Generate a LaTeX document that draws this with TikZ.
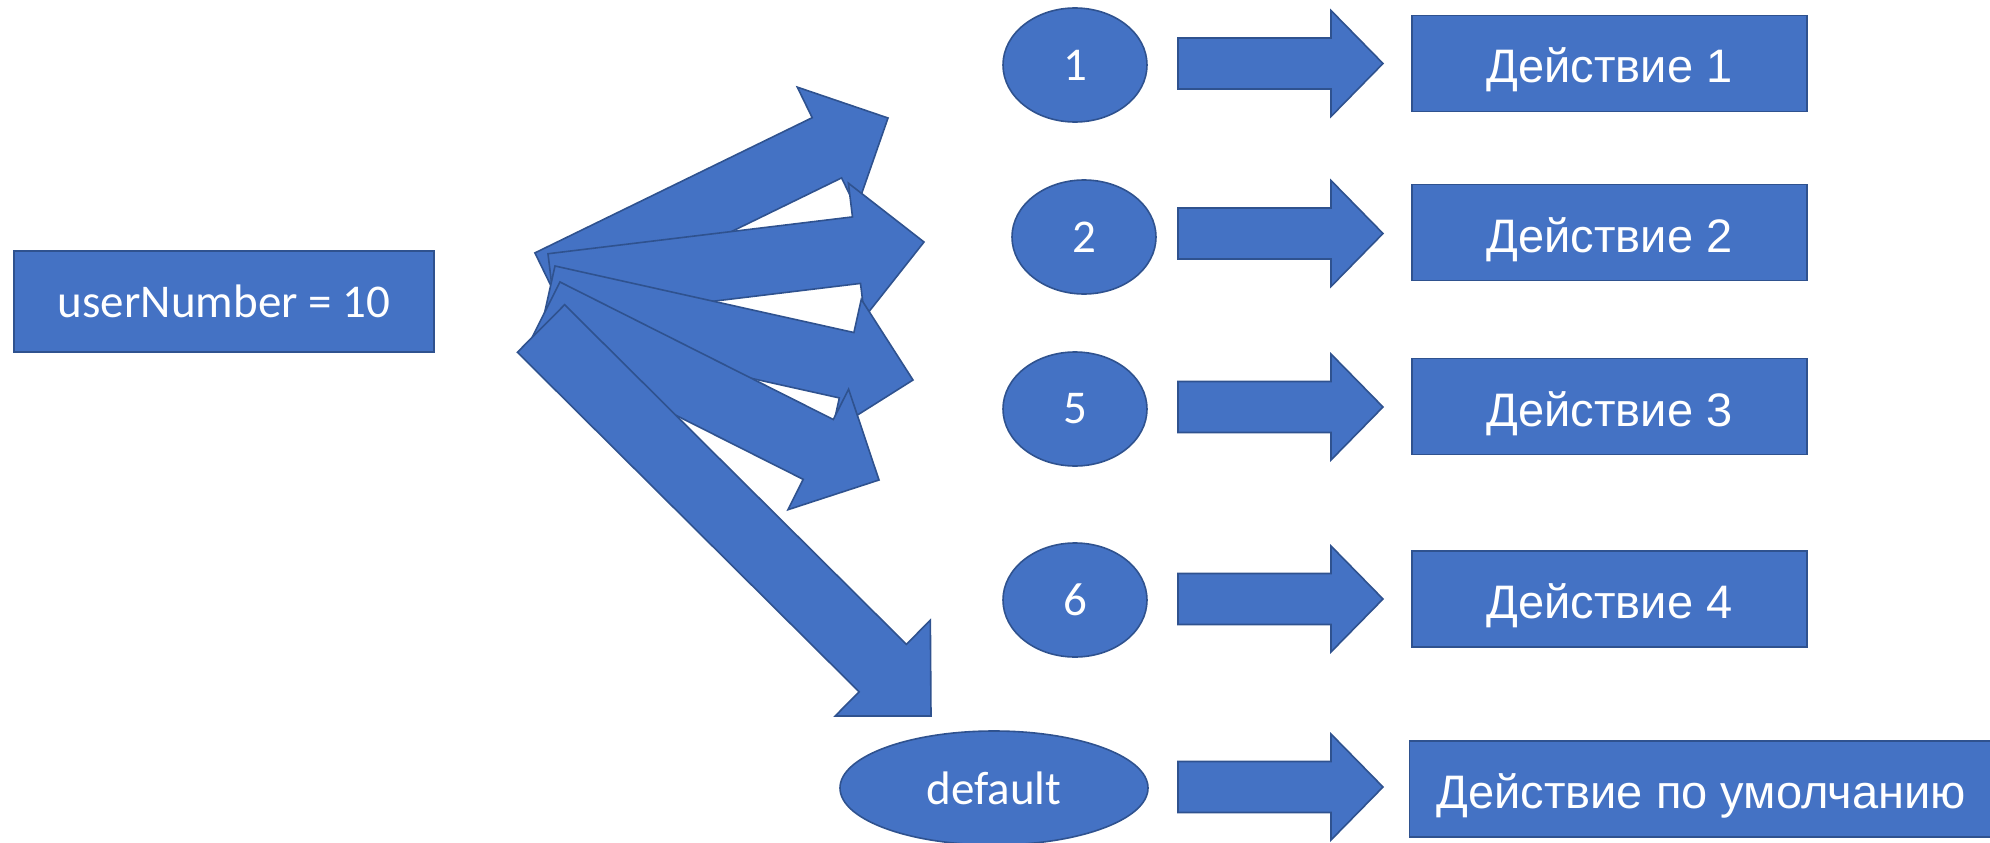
\documentclass[tikz,border=0pt]{standalone}
\usepackage{fontspec}
\setmainfont{Carlito}
\newfontfamily\cyr{Liberation Sans}
\usetikzlibrary{shapes.geometric,calc}
\definecolor{blu}{HTML}{4472C4}
\definecolor{bord}{HTML}{2F528F}
\newcommand\blockarrow[5]{%
  \coordinate (hb) at ($(#2)!#5!(#1)$);
  \draw[blk] ($(#1)!#3!90:(#2)$) -- ($(hb)!#3!90:(#2)$) -- ($(hb)!#4!90:(#2)$) -- (#2)
    -- ($(hb)!#4!-90:(#2)$) -- ($(hb)!#3!-90:(#2)$) -- ($(#1)!#3!-90:(#2)$) -- cycle;}
\tikzset{
  blk/.style={draw=bord, fill=blu, line width=1.6pt, line join=miter},
  box/.style={draw=bord, fill=blu, line width=1.6pt, text=white, inner sep=0pt,
    font=\fontsize{47}{56}\selectfont},
  oval/.style={box, ellipse, minimum width=144pt, minimum height=114pt},
  act/.style={box, minimum width=395pt, minimum height=96pt,
    text height=44pt, text depth=5pt,
    font=\cyr\fontsize{47}{56}\selectfont}
}
\begin{document}
\begin{tikzpicture}[x=1pt, y=-1pt]
\useasboundingbox (0,0) rectangle (1990,843);
% source
\node[box, minimum width=420pt, minimum height=101pt] (u) at (224,301.5) {userNumber = 10};
% fan arrows
\coordinate (t1) at (549.6,283);  \coordinate (p1) at (888,118);
\coordinate (t2) at (552,287);    \coordinate (p2) at (924,242);
\coordinate (t3) at (547.7,298.7);\coordinate (p3) at (913,380);
\coordinate (t4) at (544.9,311.9);\coordinate (p4) at (879,480);
\coordinate (t5) at (541,328.5);  \coordinate (p5) at (931,716);
\blockarrow{t1}{p1}{33.5pt}{67.5pt}{68pt}
\blockarrow{t2}{p2}{33.5pt}{67.5pt}{68pt}
\blockarrow{t3}{p3}{33.5pt}{67.5pt}{68pt}
\blockarrow{t4}{p4}{33.5pt}{67.5pt}{68pt}
\blockarrow{t5}{p5}{33.5pt}{67.5pt}{68pt}
% cases
\node[oval] (c1) at (1075,65) {1};
\node[oval] (c2) at (1084,237) {2};
\node[oval] (c3) at (1075,409) {5};
\node[oval] (c4) at (1075,600) {6};
\node[oval, minimum width=308pt] (c5) at (994,788) {default};
% actions
\node[act] (a1) at (1609.5,63.5) {Действие 1};
\node[act] (a2) at (1609.5,232.5) {Действие 2};
\node[act] (a3) at (1609.5,406.5) {Действие 3};
\node[act] (a4) at (1609.5,599) {Действие 4};
\node[act, minimum width=583pt] (a5) at (1701,789) {Действие по умолчанию};
% horizontal arrows
\foreach \i/\y in {1/63.5,2/233.5,3/407,4/599,5/787}{
  \coordinate (ht\i) at (1178,\y);
  \coordinate (hp\i) at (1383,\y);
  \blockarrow{ht\i}{hp\i}{25.5pt}{53pt}{52pt}
}
\end{tikzpicture}
\end{document}
